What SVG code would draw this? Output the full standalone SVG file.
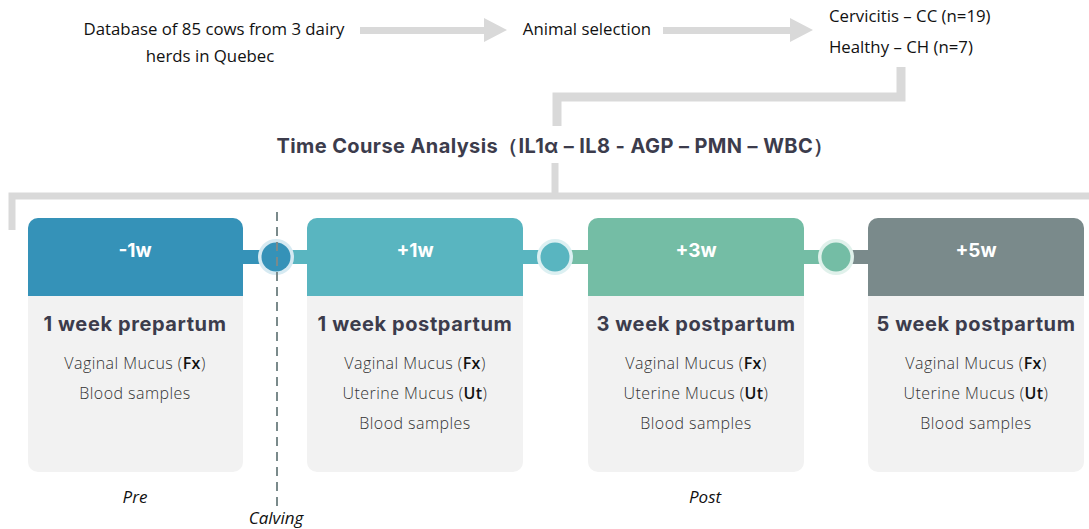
<svg xmlns="http://www.w3.org/2000/svg" width="1089" height="529" viewBox="0 0 1089 529">
<defs>
<style>
.t{font-family:"Open Sans","Liberation Sans",sans-serif;font-size:16.8px;fill:#111;}
.ttl{font-family:"Inter","Liberation Sans",sans-serif;font-weight:700;font-size:20px;letter-spacing:0.4px;fill:#3c3c4c;}
.hd{font-family:"Inter","Liberation Sans",sans-serif;font-weight:700;font-size:19px;fill:#fff;text-anchor:middle;}
.ct{font-family:"Inter","Liberation Sans",sans-serif;font-weight:700;font-size:20px;letter-spacing:0.6px;fill:#3c3c4c;text-anchor:middle;}
.bd{font-family:"Open Sans","Liberation Sans",sans-serif;font-weight:300;font-size:16px;letter-spacing:0.45px;fill:#333;text-anchor:middle;}
.bd tspan.b{font-weight:600;fill:#111;}
.it{font-family:"Open Sans","Liberation Sans",sans-serif;font-style:italic;font-size:17px;fill:#111;text-anchor:middle;}
.body{fill:#f2f2f2;}
.ln{fill:none;stroke:#d9d9d9;}
.arr{fill:#d9d9d9;}
</style>
</defs>
<rect width="1089" height="529" fill="#fff"/>

<g id="connectors">
  <polygon class="arr" points="360,27 484,27 484,18 507,30 484,42 484,34 360,34"/>
  <polygon class="arr" points="663,27 790,27 790,18 813,30 790,42 790,34 663,34"/>
  <polyline class="ln" stroke-width="9" points="901,67 901,97 557,97 557,126"/>
  <polyline class="ln" stroke-width="7" points="555,163 555,196"/>
  <polyline class="ln" stroke-width="7" points="12,230 12,196 1089,196"/>
  <rect x="243" y="250" width="33" height="14" fill="#3592b8"/>
  <rect x="276" y="250" width="31" height="14" fill="#59b5c0"/>
  <rect x="523" y="250" width="32" height="14" fill="#59b5c0"/>
  <rect x="555" y="250" width="33" height="14" fill="#74bda5"/>
  <rect x="804" y="250" width="32" height="14" fill="#74bda5"/>
  <rect x="836" y="250" width="32" height="14" fill="#7a8a8b"/>
  <circle cx="276" cy="257" r="18" fill="#d6eaf2"/>
  <circle cx="276" cy="257" r="14.5" fill="#3592b8"/>
  <circle cx="555" cy="257" r="18" fill="#dcf0f2"/>
  <circle cx="555" cy="257" r="14.5" fill="#59b5c0"/>
  <circle cx="836" cy="257" r="18" fill="#e0f1eb"/>
  <circle cx="836" cy="257" r="14.5" fill="#74bda5"/>
  <line x1="277" y1="212" x2="277" y2="506" stroke="#7a8a8b" stroke-width="2" stroke-dasharray="9,6"/>
</g>

<g id="source">
  <text class="t" x="214" y="35" text-anchor="middle">Database of 85 cows from 3 dairy</text>
  <text class="t" x="210" y="62" text-anchor="middle">herds in Quebec</text>
</g>
<g id="selection">
  <text class="t" x="587" y="35" text-anchor="middle">Animal selection</text>
</g>
<g id="groups">
  <text class="t" x="829" y="22">Cervicitis – CC (n=19)</text>
  <text class="t" x="829" y="53">Healthy – CH (n=7)</text>
</g>
<g id="title">
  <text class="ttl" x="555" y="153" text-anchor="middle">Time Course Analysis（IL1α – IL8 - AGP – PMN – WBC）</text>
</g>

<g id="card-m1w">
  <rect class="body" x="28" y="218" width="215" height="254" rx="10"/>
  <path d="M28,296 V228 a10,10 0 0 1 10,-10 H233 a10,10 0 0 1 10,10 V296 Z" fill="#3592b8"/>
  <text class="hd" x="135" y="257">-1w</text>
  <text class="ct" x="135" y="331">1 week prepartum</text>
  <text class="bd" x="135" y="369">Vaginal Mucus (<tspan class="b">Fx</tspan>)</text>
  <text class="bd" x="135" y="399">Blood samples</text>
</g>
<g id="card-p1w">
  <rect class="body" x="307" y="218" width="216" height="254" rx="10"/>
  <path d="M307,296 V228 a10,10 0 0 1 10,-10 H513 a10,10 0 0 1 10,10 V296 Z" fill="#59b5c0"/>
  <text class="hd" x="415" y="257">+1w</text>
  <text class="ct" x="415" y="331">1 week postpartum</text>
  <text class="bd" x="415" y="369">Vaginal Mucus (<tspan class="b">Fx</tspan>)</text>
  <text class="bd" x="415" y="399">Uterine Mucus (<tspan class="b">Ut</tspan>)</text>
  <text class="bd" x="415" y="429">Blood samples</text>
</g>
<g id="card-p3w">
  <rect class="body" x="588" y="218" width="216" height="254" rx="10"/>
  <path d="M588,296 V228 a10,10 0 0 1 10,-10 H794 a10,10 0 0 1 10,10 V296 Z" fill="#74bda5"/>
  <text class="hd" x="696" y="257">+3w</text>
  <text class="ct" x="696" y="331">3 week postpartum</text>
  <text class="bd" x="696" y="369">Vaginal Mucus (<tspan class="b">Fx</tspan>)</text>
  <text class="bd" x="696" y="399">Uterine Mucus (<tspan class="b">Ut</tspan>)</text>
  <text class="bd" x="696" y="429">Blood samples</text>
</g>
<g id="card-p5w">
  <rect class="body" x="868" y="218" width="216" height="254" rx="10"/>
  <path d="M868,296 V228 a10,10 0 0 1 10,-10 H1074 a10,10 0 0 1 10,10 V296 Z" fill="#7a8a8b"/>
  <text class="hd" x="976" y="257">+5w</text>
  <text class="ct" x="976" y="331">5 week postpartum</text>
  <text class="bd" x="976" y="369">Vaginal Mucus (<tspan class="b">Fx</tspan>)</text>
  <text class="bd" x="976" y="399">Uterine Mucus (<tspan class="b">Ut</tspan>)</text>
  <text class="bd" x="976" y="429">Blood samples</text>
</g>

<g id="labels">
  <text class="it" x="135" y="503">Pre</text>
  <text class="it" x="276" y="524">Calving</text>
  <text class="it" x="705" y="503">Post</text>
</g>
</svg>
